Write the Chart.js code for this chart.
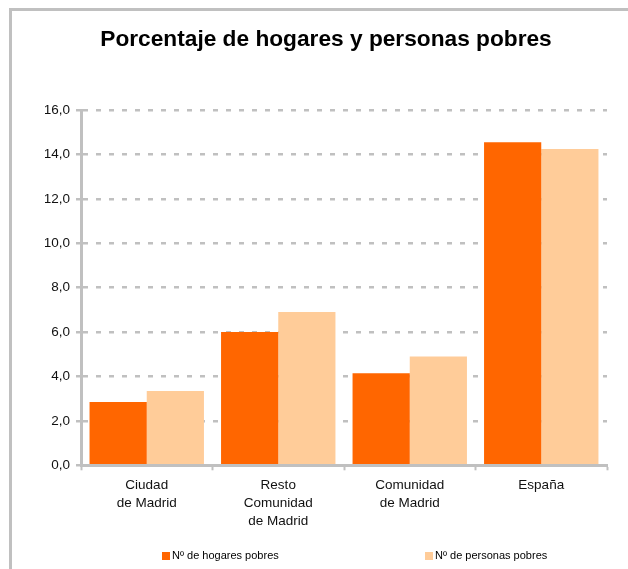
<!DOCTYPE html>
<html>
<head>
<meta charset="utf-8">
<script src="https://cdn.jsdelivr.net/npm/chart.js@4"></script>
<style>
    html, body {
        margin: 0;
        padding: 0;
        overflow: hidden;
        background: #fff;
    }
    body {
        width: 628px;
        height: 569px;
        position: relative;
        font-family: "Liberation Sans", Arial, sans-serif;
    }
    .frame {
        position: absolute;
        left: 9px;
        top: 8px;
        width: 700px;
        height: 600px;
        border-top: 3px solid #c0c0c0;
        border-left: 3px solid #c0c0c0;
    }
    .chart_wrap {
        position: absolute;
        left: 12px;
        top: 11px;
    }
    .legend_item {
        position: absolute;
        top: 549px;
        font-size: 11px;
        line-height: 12px;
        color: #000;
        white-space: nowrap;
    }
    .legend_box {
        display: inline-block;
        width: 8px;
        height: 8px;
        margin-right: 2px;
        vertical-align: -1px;
    }
</style>
</head>
<body>
<div class="frame"></div>
<div class="chart_wrap"><canvas id="myChart" width="628" height="558"></canvas></div>
<div id="legend"></div>

<script>
const categories = [
    ["Ciudad", "de Madrid"],
    ["Resto", "Comunidad", "de Madrid"],
    ["Comunidad", "de Madrid"],
    ["España"],
];
const hogares = [2.85, 6.0, 4.15, 14.55];
const personas = [3.35, 6.9, 4.9, 14.25];
const seriesNames = ["Nº de hogares pobres", "Nº de personas pobres"];
const seriesColors = ["#ff6600", "#ffcc99"];
const yTickLabels = ["0,0", "2,0", "4,0", "6,0", "8,0", "10,0", "12,0", "14,0", "16,0"];

const gridGray = "#c0c0c0";
const font = "'Liberation Sans', Arial, sans-serif";

const ctx = document.getElementById("myChart").getContext("2d");
const myChart = new Chart(ctx, {
    type: "bar",
    data: {
        labels: categories,
        datasets: [
            {
                label: seriesNames[0],
                data: hogares,
                backgroundColor: seriesColors[0],
                borderWidth: 0,
            },
            {
                label: seriesNames[1],
                data: personas,
                backgroundColor: seriesColors[1],
                borderWidth: 0,
            },
        ],
    },
    options: {
        responsive: false,
        animation: false,
        categoryPercentage: 0.87,
        barPercentage: 1.0,
        layout: {
            padding: { left: 33, right: 33, top: 0, bottom: 38.7 },
        },
        plugins: {
            legend: { display: false },
            tooltip: { enabled: false },
            title: {
                display: true,
                text: "Porcentaje de hogares y personas pobres",
                color: "#000",
                font: { family: font, size: 22.7, weight: "bold" },
                padding: { top: 15, bottom: 56.8 },
            },
        },
        scales: {
            x: {
                afterFit: (scale) => { scale.height = 65; },
                grid: {
                    display: true,
                    drawOnChartArea: false,
                    drawTicks: true,
                    tickLength: 5,
                    tickColor: gridGray,
                    tickWidth: 2,
                    offset: true,
                },
                border: { display: true, color: gridGray, width: 3, z: 1 },
                ticks: {
                    color: "#111",
                    padding: 6,
                    maxRotation: 0,
                    autoSkip: false,
                    font: { family: font, size: 13.5, lineHeight: 1.33 },
                },
            },
            y: {
                min: 0,
                max: 16,
                afterFit: (scale) => { scale.width = 36; },
                grid: {
                    color: gridGray,
                    lineWidth: 2.5,
                    drawTicks: true,
                    tickLength: 5,
                    tickColor: gridGray,
                    tickWidth: 2.5,
                    tickBorderDash: [],
                },
                border: { display: true, color: gridGray, width: 3, dash: [5, 8] },
                ticks: {
                    stepSize: 2,
                    color: "#111",
                    padding: 6,
                    font: { family: font, size: 13.5 },
                    callback: (value, index) => yTickLabels[index],
                },
            },
        },
    },
});

// leyenda en html, separada como en el original
const legendWrap = document.getElementById("legend");
const legendLeft = [162, 425];
seriesNames.forEach((name, i) => {
    const item = document.createElement("div");
    item.classList.add("legend_item");
    item.style.left = legendLeft[i] + "px";
    const box = document.createElement("span");
    box.classList.add("legend_box");
    box.style.background = seriesColors[i];
    item.appendChild(box);
    item.appendChild(document.createTextNode(name));
    legendWrap.appendChild(item);
});
</script>
</body>
</html>
